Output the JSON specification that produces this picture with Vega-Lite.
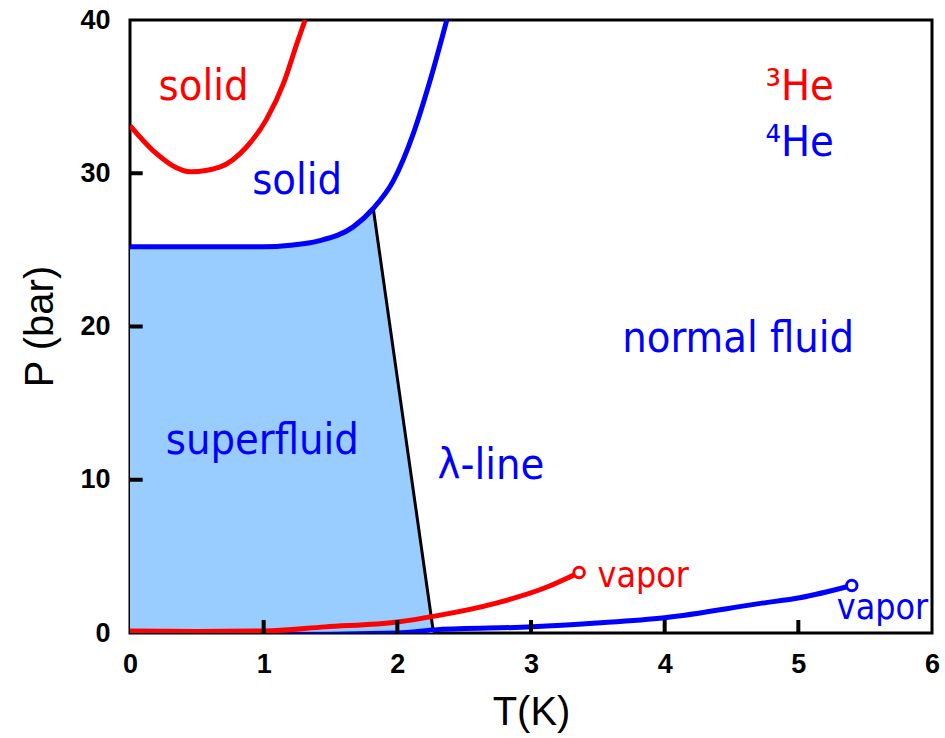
{
  "$schema": "https://vega.github.io/schema/vega-lite/v6.json",
  "autosize": {"type": "none"},
  "padding": {"left": 130, "top": 20, "right": 13, "bottom": 105},
  "width": 802,
  "height": 613,
  "background": "white",
  "config": {
    "view": {"stroke": "black", "strokeWidth": 3},
    "axis": {
      "grid": false,
      "domain": false,
      "ticks": false,
      "labelFlush": false,
      "labelFont": "Liberation Sans",
      "labelFontWeight": "bold",
      "labelFontSize": 27,
      "labelColor": "black",
      "titleFont": "Liberation Sans",
      "titleFontWeight": "normal",
      "titleFontSize": 40,
      "titleColor": "black"
    }
  },
  "datasets": {
    "superfluid": [
      {"T": 0, "P": 25.2}, {"T": 1.0, "P": 25.2}, {"T": 1.2, "P": 25.3}, {"T": 1.3, "P": 25.4},
      {"T": 1.42, "P": 25.6}, {"T": 1.55, "P": 25.95}, {"T": 1.67, "P": 26.5}, {"T": 1.75, "P": 27.0},
      {"T": 1.82, "P": 27.7}, {"T": 2.27, "P": 0}
    ],
    "curves": [
      {"curve": "melt3", "iso": "3He", "T": 0, "P": 33.1},
      {"curve": "melt3", "iso": "3He", "T": 0.17, "P": 31.5},
      {"curve": "melt3", "iso": "3He", "T": 0.46, "P": 30.1},
      {"curve": "melt3", "iso": "3He", "T": 0.67, "P": 30.4},
      {"curve": "melt3", "iso": "3He", "T": 0.87, "P": 31.7},
      {"curve": "melt3", "iso": "3He", "T": 1.02, "P": 33.5},
      {"curve": "melt3", "iso": "3He", "T": 1.15, "P": 35.9},
      {"curve": "melt3", "iso": "3He", "T": 1.25, "P": 38.5},
      {"curve": "melt3", "iso": "3He", "T": 1.31, "P": 40},
      {"curve": "melt4", "iso": "4He", "T": 0, "P": 25.2},
      {"curve": "melt4", "iso": "4He", "T": 0.5, "P": 25.2},
      {"curve": "melt4", "iso": "4He", "T": 1.0, "P": 25.2},
      {"curve": "melt4", "iso": "4He", "T": 1.2, "P": 25.3},
      {"curve": "melt4", "iso": "4He", "T": 1.42, "P": 25.6},
      {"curve": "melt4", "iso": "4He", "T": 1.67, "P": 26.5},
      {"curve": "melt4", "iso": "4He", "T": 1.82, "P": 27.7},
      {"curve": "melt4", "iso": "4He", "T": 1.97, "P": 29.5},
      {"curve": "melt4", "iso": "4He", "T": 2.12, "P": 32.6},
      {"curve": "melt4", "iso": "4He", "T": 2.24, "P": 35.9},
      {"curve": "melt4", "iso": "4He", "T": 2.37, "P": 40},
      {"curve": "vap4", "iso": "4He", "T": 0, "P": -0.1},
      {"curve": "vap4", "iso": "4He", "T": 1.0, "P": -0.1},
      {"curve": "vap4", "iso": "4He", "T": 2.0, "P": 0.0},
      {"curve": "vap4", "iso": "4He", "T": 2.3, "P": 0.22},
      {"curve": "vap4", "iso": "4He", "T": 3.01, "P": 0.4},
      {"curve": "vap4", "iso": "4He", "T": 3.49, "P": 0.65},
      {"curve": "vap4", "iso": "4He", "T": 4.0, "P": 1.0},
      {"curve": "vap4", "iso": "4He", "T": 4.73, "P": 1.95},
      {"curve": "vap4", "iso": "4He", "T": 5.01, "P": 2.3},
      {"curve": "vap4", "iso": "4He", "T": 5.4, "P": 3.1},
      {"curve": "vap3", "iso": "3He", "T": 0, "P": 0.13},
      {"curve": "vap3", "iso": "3He", "T": 0.5, "P": 0.1},
      {"curve": "vap3", "iso": "3He", "T": 1.0, "P": 0.13},
      {"curve": "vap3", "iso": "3He", "T": 1.46, "P": 0.4},
      {"curve": "vap3", "iso": "3He", "T": 2.0, "P": 0.72},
      {"curve": "vap3", "iso": "3He", "T": 2.28, "P": 1.1},
      {"curve": "vap3", "iso": "3He", "T": 2.74, "P": 1.95},
      {"curve": "vap3", "iso": "3He", "T": 3.12, "P": 3.0},
      {"curve": "vap3", "iso": "3He", "T": 3.36, "P": 3.95}
    ],
    "lambda": [
      {"T": 1.82, "P": 27.7}, {"T": 2.27, "P": 0.05}
    ],
    "critical": [
      {"iso": "3He", "T": 3.36, "P": 3.95},
      {"iso": "4He", "T": 5.4, "P": 3.1}
    ],
    "xticks": [{"T": 1}, {"T": 2}, {"T": 3}, {"T": 4}, {"T": 5}],
    "yticks": [{"P": 10}, {"P": 20}, {"P": 30}],
    "labels": [
      {"iso": "3He", "T": 0.55, "P": 35.6, "text": "solid"},
      {"iso": "4He", "T": 1.25, "P": 29.5, "text": "solid"},
      {"iso": "4He", "T": 0.99, "P": 12.5, "text": "superfluid"},
      {"iso": "4He", "T": 2.70, "P": 10.9, "text": "λ-line"},
      {"iso": "4He", "T": 4.55, "P": 19.2, "text": "normal fluid"},
      {"iso": "3He", "T": 5.01, "P": 35.6, "text": "³He"},
      {"iso": "4He", "T": 5.01, "P": 32.0, "text": "⁴He"}
    ],
    "vaporLabels": [
      {"iso": "3He", "T": 3.84, "P": 3.7, "text": "vapor"},
      {"iso": "4He", "T": 5.63, "P": 1.6, "text": "vapor"}
    ]
  },
  "layer": [
    {
      "data": {"name": "superfluid"},
      "mark": {"type": "area", "color": "#99CCFF", "opacity": 1, "clip": true},
      "encoding": {
        "x": {"field": "T", "type": "quantitative", "scale": {"domain": [0, 6], "nice": false},
          "axis": {"values": [0, 1, 2, 3, 4, 5, 6], "format": "d", "title": "T(K)", "labelPadding": 18, "titleY": 79, "titleBaseline": "middle"}},
        "y": {"field": "P", "type": "quantitative", "scale": {"domain": [0, 40], "nice": false},
          "axis": {"values": [0, 10, 20, 30, 40], "format": "d", "title": "P (bar)", "labelPadding": 20, "titleX": -90, "titleY": 306, "titleBaseline": "middle"}},
        "y2": {"datum": 0}
      }
    },
    {
      "data": {"name": "lambda"},
      "mark": {"type": "line", "color": "black", "strokeWidth": 3, "clip": true},
      "encoding": {
        "x": {"field": "T", "type": "quantitative"},
        "y": {"field": "P", "type": "quantitative"}
      }
    },
    {
      "data": {"name": "curves"},
      "mark": {"type": "line", "strokeWidth": 5, "interpolate": "monotone", "clip": true},
      "encoding": {
        "x": {"field": "T", "type": "quantitative"},
        "y": {"field": "P", "type": "quantitative"},
        "detail": {"field": "curve"},
        "color": {"field": "iso", "type": "nominal", "scale": {"domain": ["3He", "4He"], "range": ["#FF0000", "#0000FF"]}, "legend": null}
      }
    },
    {
      "data": {"name": "critical"},
      "mark": {"type": "point", "shape": "circle", "size": 110, "filled": false, "fill": "white", "fillOpacity": 1, "strokeWidth": 3, "opacity": 1},
      "encoding": {
        "x": {"field": "T", "type": "quantitative"},
        "y": {"field": "P", "type": "quantitative"},
        "stroke": {"field": "iso", "type": "nominal", "scale": {"domain": ["3He", "4He"], "range": ["#FF0000", "#0000FF"]}, "legend": null}
      }
    },
    {
      "data": {"name": "labels"},
      "mark": {"type": "text", "font": "DejaVu Sans Condensed, DejaVu Sans", "fontSize": 43, "align": "center", "baseline": "middle"},
      "encoding": {
        "x": {"field": "T", "type": "quantitative"},
        "y": {"field": "P", "type": "quantitative"},
        "text": {"field": "text"},
        "color": {"field": "iso", "type": "nominal", "scale": {"domain": ["3He", "4He"], "range": ["#FF0000", "#0000FF"]}, "legend": null}
      }
    },
    {
      "data": {"name": "vaporLabels"},
      "mark": {"type": "text", "font": "DejaVu Sans Condensed, DejaVu Sans", "fontSize": 35.5, "align": "center", "baseline": "middle"},
      "encoding": {
        "x": {"field": "T", "type": "quantitative"},
        "y": {"field": "P", "type": "quantitative"},
        "text": {"field": "text"},
        "color": {"field": "iso", "type": "nominal", "scale": {"domain": ["3He", "4He"], "range": ["#FF0000", "#0000FF"]}, "legend": null}
      }
    },
    {
      "data": {"name": "xticks"},
      "mark": {"type": "rule", "color": "#000000", "strokeWidth": 4, "opacity": 1},
      "encoding": {
        "x": {"field": "T", "type": "quantitative"},
        "y": {"datum": 0},
        "y2": {"datum": 0.85}
      }
    },
    {
      "data": {"name": "yticks"},
      "mark": {"type": "rule", "color": "#000000", "strokeWidth": 4, "opacity": 1},
      "encoding": {
        "y": {"field": "P", "type": "quantitative"},
        "x": {"datum": 0},
        "x2": {"datum": 0.095}
      }
    }
  ]
}
